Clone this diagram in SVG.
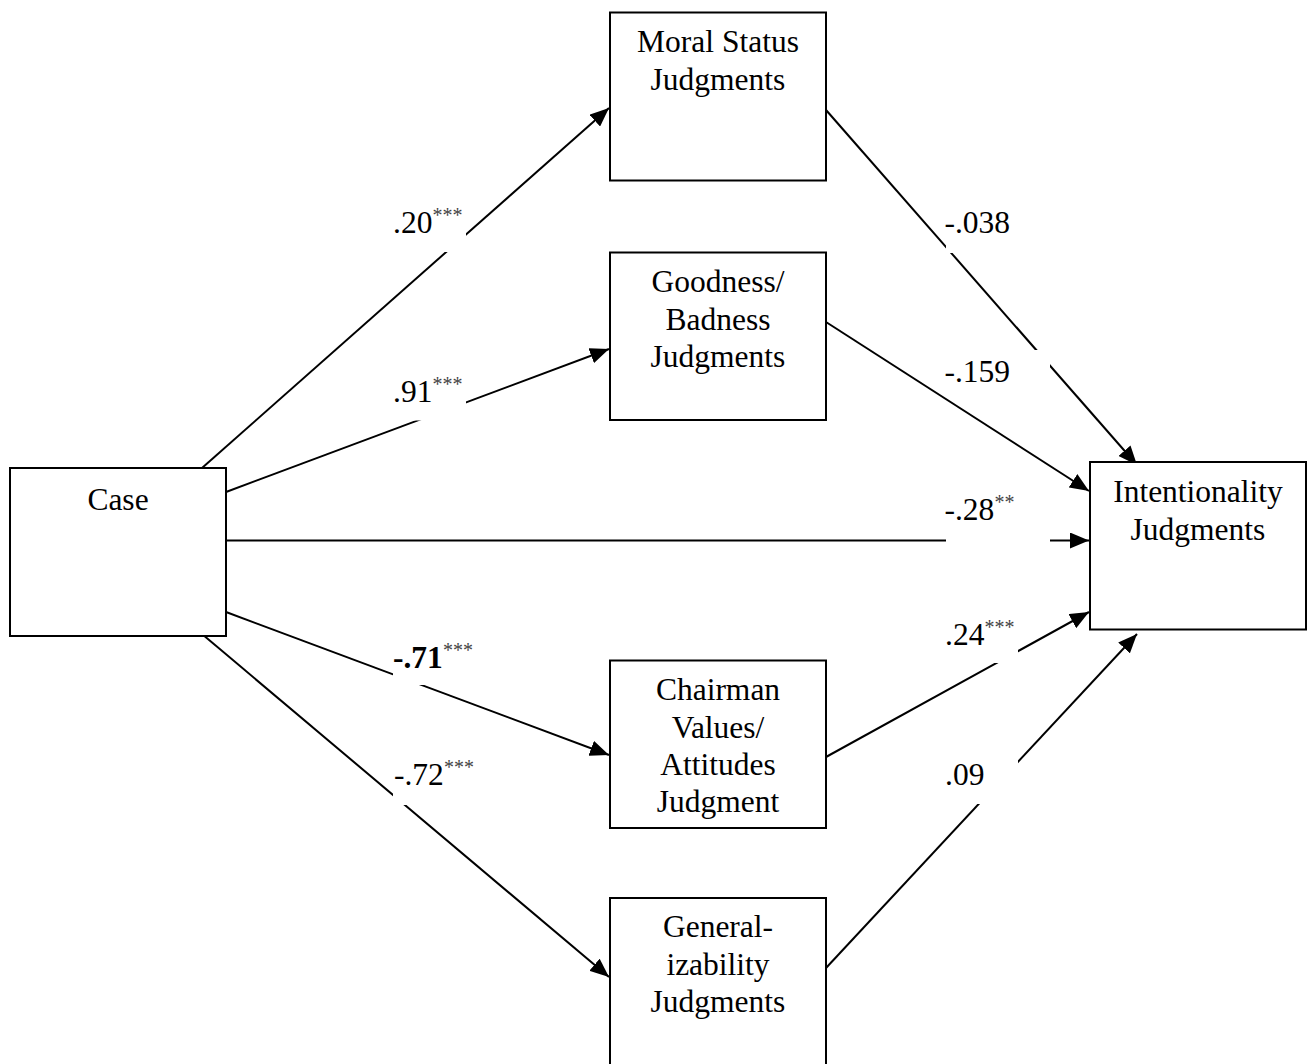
<svg xmlns="http://www.w3.org/2000/svg" width="1311" height="1064" viewBox="0 0 1311 1064">
<defs>
<style>
.box{fill:#fff;stroke:#000;stroke-width:2}
.nt{font-family:"Liberation Serif","Times New Roman",serif;font-size:31.5px;fill:#000;text-anchor:middle}
.lt{font-family:"Liberation Serif","Times New Roman",serif;font-size:31.5px;fill:#000}
.sup{font-size:20px;fill:#444}
.cn{stroke:#000;stroke-width:2;fill:none;marker-end:url(#ah)}
.bg{fill:#fff;stroke:none}
</style>
<marker id="ah" markerUnits="userSpaceOnUse" markerWidth="20" markerHeight="16" refX="19" refY="8" orient="auto">
<path d="M0,0 L19,8 L0,16 z" fill="#000"/>
</marker>
</defs>
<rect width="1311" height="1064" fill="#fff"/>
<g id="connectors">
<line class="cn" x1="202" y1="468" x2="609" y2="108"/>
<line class="cn" x1="226" y1="492" x2="609" y2="349"/>
<line class="cn" x1="226" y1="540.5" x2="1089" y2="540.5"/>
<line class="cn" x1="226" y1="612" x2="609" y2="755"/>
<line class="cn" x1="202" y1="634" x2="609" y2="977"/>
<line class="cn" x1="826" y1="110" x2="1137" y2="465"/>
<line class="cn" x1="826" y1="322" x2="1089" y2="491"/>
<line class="cn" x1="826" y1="757" x2="1089" y2="612"/>
<line class="cn" x1="826" y1="968" x2="1137" y2="634"/>
</g>
<g id="labels">
<rect class="bg" x="390" y="198" width="76" height="54"/>
<text class="lt" x="393" y="233">.20<tspan class="sup" dy="-11">***</tspan></text>
<rect class="bg" x="390" y="366" width="76" height="54.5"/>
<text class="lt" x="393" y="402">.91<tspan class="sup" dy="-11">***</tspan></text>
<rect class="bg" x="393" y="632" width="83" height="53"/>
<text class="lt" x="393" y="668" font-weight="bold">-.71<tspan class="sup" dy="-11" font-weight="normal">***</tspan></text>
<rect class="bg" x="393" y="751" width="83" height="54"/>
<text class="lt" x="394" y="785">-.72<tspan class="sup" dy="-11">***</tspan></text>
<rect class="bg" x="946" y="202" width="104" height="51"/>
<text class="lt" x="944.5" y="233">-.038</text>
<rect class="bg" x="946" y="350" width="104" height="47"/>
<text class="lt" x="944.5" y="382">-.159</text>
<rect class="bg" x="946" y="489" width="104" height="56"/>
<text class="lt" x="944.5" y="520">-.28<tspan class="sup" dy="-11">**</tspan></text>
<rect class="bg" x="946" y="612" width="72" height="51"/>
<text class="lt" x="945" y="645">.24<tspan class="sup" dy="-11">***</tspan></text>
<rect class="bg" x="946" y="752" width="72" height="52"/>
<text class="lt" x="945" y="785">.09</text>
</g>
<g id="case">
<rect class="box" x="10" y="468" width="216" height="168"/>
<text class="nt" x="118" y="510">Case</text>
</g>
<g id="moral">
<rect class="box" x="610" y="12.5" width="216" height="168"/>
<text class="nt" x="718" y="52">Moral Status</text>
<text class="nt" x="718" y="90">Judgments</text>
</g>
<g id="goodness">
<rect class="box" x="610" y="252.5" width="216" height="167.5"/>
<text class="nt" x="718" y="292">Goodness/</text>
<text class="nt" x="718" y="329.5">Badness</text>
<text class="nt" x="718" y="367">Judgments</text>
</g>
<g id="intentionality">
<rect class="box" x="1090" y="462" width="216" height="167.5"/>
<text class="nt" x="1198" y="502">Intentionality</text>
<text class="nt" x="1198" y="539.5">Judgments</text>
</g>
<g id="chairman">
<rect class="box" x="610" y="660.5" width="216" height="167.5"/>
<text class="nt" x="718" y="700">Chairman</text>
<text class="nt" x="718" y="737.5">Values/</text>
<text class="nt" x="718" y="774.5">Attitudes</text>
<text class="nt" x="718" y="812">Judgment</text>
</g>
<g id="generalizability">
<rect class="box" x="610" y="898" width="216" height="168"/>
<text class="nt" x="718" y="937">General-</text>
<text class="nt" x="718" y="974.5">izability</text>
<text class="nt" x="718" y="1012">Judgments</text>
</g>
</svg>
